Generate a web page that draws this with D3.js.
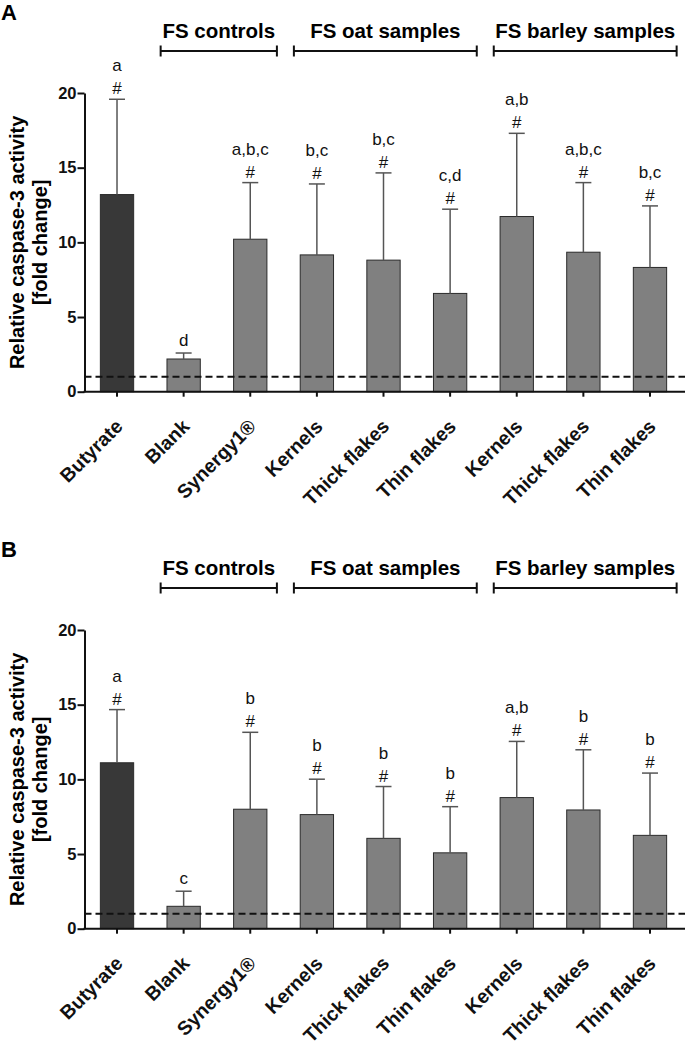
<!DOCTYPE html>
<html>
<head>
<meta charset="utf-8">
<script src="https://cdn.jsdelivr.net/npm/d3@7"></script>
<style>
  html, body { margin: 0; padding: 0; background: #fff; }
  svg { display: block; font-family: "Liberation Sans", Arial, sans-serif; }
</style>
</head>
<body>
<svg id="chart" width="685" height="1047"></svg>
<script>
// ---- data ----
const categories = ["Butyrate", "Blank", "Synergy1®", "Kernels", "Thick flakes", "Thin flakes", "Kernels", "Thick flakes", "Thin flakes"];
const yTicks = [0, 5, 10, 15, 20];

const meansA = [13.2, 2.19, 10.21, 9.16, 8.81, 6.58, 11.73, 9.34, 8.32];
const sdA = [6.38, 0.40, 3.79, 4.75, 5.84, 5.64, 5.57, 4.66, 4.12];
const lettersA = ["a", "d", "a,b,c", "b,c", "b,c", "c,d", "a,b", "a,b,c", "b,c"];
const hashA = [true, false, true, true, true, true, true, true, true];

const meansB = [11.11, 1.50, 8.00, 7.64, 6.05, 5.08, 8.78, 7.95, 6.25];
const sdB = [3.56, 1.01, 5.15, 2.37, 3.47, 3.09, 3.76, 4.03, 4.17];
const lettersB = ["a", "c", "b", "b", "b", "b", "a,b", "b", "b"];
const hashB = [true, false, true, true, true, true, true, true, true];

const groupLabels = ["FS controls", "FS oat samples", "FS barley samples"];
const groupFrom = [1, 3, 6];
const groupTo = [2, 5, 8];

const panelLabels = ["A", "B"];
const referenceLine = 1;
const yTitle1 = "Relative caspase-3 activity";
const yTitle2 = "[fold change]";

// ---- drawing ----
const svg = d3.select("#chart");
const idx = d3.range(categories.length);
const x = d3.scaleBand().domain(idx).range([83.7, 683.3]).paddingInner(0.5).paddingOuter(0.25);

function drawPanel(offsetY, panelLabel, means, sds, letters, hashes) {
  const g = svg.append("g").attr("transform", `translate(0,${offsetY})`);
  const y = d3.scaleLinear().domain([0, 20]).range([391.7, 93]);
  const axisX0 = 84.5;

  // panel letter
  g.append("text").attr("x", 1).attr("y", 20)
    .attr("font-size", 22).attr("font-weight", "bold").text(panelLabel);

  // group brackets
  groupLabels.forEach((lab, i) => {
    const x1 = x(groupFrom[i]) - 0.095 * x.step();
    const x2 = x(groupTo[i]) + x.bandwidth() + 0.15 * x.step();
    g.append("text").attr("x", (x1 + x2) / 2).attr("y", 38)
      .attr("text-anchor", "middle").attr("font-size", 20.5).attr("font-weight", "bold")
      .text(lab);
    g.append("line").attr("x1", x1).attr("x2", x2).attr("y1", 51).attr("y2", 51)
      .attr("stroke", "#111").attr("stroke-width", 2);
    [x1, x2].forEach(xx => g.append("line").attr("x1", xx).attr("x2", xx)
      .attr("y1", 45.5).attr("y2", 56.5).attr("stroke", "#111").attr("stroke-width", 2));
  });

  // y axis
  const yAxis = d3.axisLeft(y).tickValues(yTicks).tickSize(7).tickSizeOuter(0).tickPadding(1);
  const ya = g.append("g").attr("transform", `translate(${axisX0},0)`).call(yAxis);
  ya.select(".domain").attr("stroke", "#111").attr("stroke-width", 2);
  ya.selectAll(".tick line").attr("stroke", "#111").attr("stroke-width", 2);
  ya.selectAll(".tick text").attr("font-size", 16.5).attr("font-weight", "bold")
    .attr("font-family", "Liberation Sans, Arial, sans-serif").attr("fill", "#111");

  // y title
  const ymid = (y(0) + y(20)) / 2;
  g.append("text").attr("transform", `translate(24,${ymid}) rotate(-90)`)
    .attr("text-anchor", "middle").attr("font-size", 20).attr("font-weight", "bold").text(yTitle1);
  g.append("text").attr("transform", `translate(47,${ymid}) rotate(-90)`)
    .attr("text-anchor", "middle").attr("font-size", 20).attr("font-weight", "bold").text(yTitle2);

  // bars
  g.selectAll("rect.bar").data(idx).enter().append("rect")
    .attr("x", i => x(i)).attr("width", x.bandwidth())
    .attr("y", i => y(means[i])).attr("height", i => y(0) - y(means[i]))
    .attr("fill", i => i === 0 ? "#383838" : "#808080")
    .attr("stroke", "#2a2a2a").attr("stroke-width", 1);

  // error bars
  idx.forEach(i => {
    const cx = x(i) + x.bandwidth() / 2;
    const top = y(means[i] + sds[i]);
    g.append("line").attr("x1", cx).attr("x2", cx).attr("y1", y(means[i])).attr("y2", top)
      .attr("stroke", "#555").attr("stroke-width", 1.5);
    g.append("line").attr("x1", cx - 8).attr("x2", cx + 8).attr("y1", top).attr("y2", top)
      .attr("stroke", "#555").attr("stroke-width", 1.5);
    if (hashes[i]) {
      g.append("text").attr("x", cx).attr("y", top - 5).attr("text-anchor", "middle")
        .attr("font-size", 17).attr("fill", "#111").text("#");
      g.append("text").attr("x", cx).attr("y", top - 28).attr("text-anchor", "middle")
        .attr("font-size", 17).attr("fill", "#111").text(letters[i]);
    } else {
      g.append("text").attr("x", cx).attr("y", top - 7).attr("text-anchor", "middle")
        .attr("font-size", 17).attr("fill", "#111").text(letters[i]);
    }
  });

  // reference dashed line
  g.append("line").attr("x1", axisX0).attr("x2", 685).attr("y1", y(referenceLine)).attr("y2", y(referenceLine))
    .attr("stroke", "#111").attr("stroke-width", 2).attr("stroke-dasharray", "7,4");

  // x axis
  const xAxis = d3.axisBottom(x).tickSize(5).tickSizeOuter(0).tickFormat("");
  const xa = g.append("g").attr("transform", `translate(0,${y(0)})`).call(xAxis);
  xa.select(".domain").remove();
  xa.selectAll(".tick line").attr("stroke", "#111").attr("stroke-width", 2);
  g.append("line").attr("x1", axisX0 - 1).attr("x2", 685).attr("y1", y(0)).attr("y2", y(0))
    .attr("stroke", "#111").attr("stroke-width", 2);

  // x labels
  idx.forEach(i => {
    const cx = x(i) + x.bandwidth() / 2;
    g.append("text").attr("transform", `translate(${cx + 7},${y(0) + 36}) rotate(-45)`)
      .attr("text-anchor", "end").attr("font-size", 19.5).attr("font-weight", "bold")
      .attr("fill", "#111").text(categories[i]);
  });
}

drawPanel(0, panelLabels[0], meansA, sdA, lettersA, hashA);
drawPanel(537, panelLabels[1], meansB, sdB, lettersB, hashB);
</script>
</body>
</html>
